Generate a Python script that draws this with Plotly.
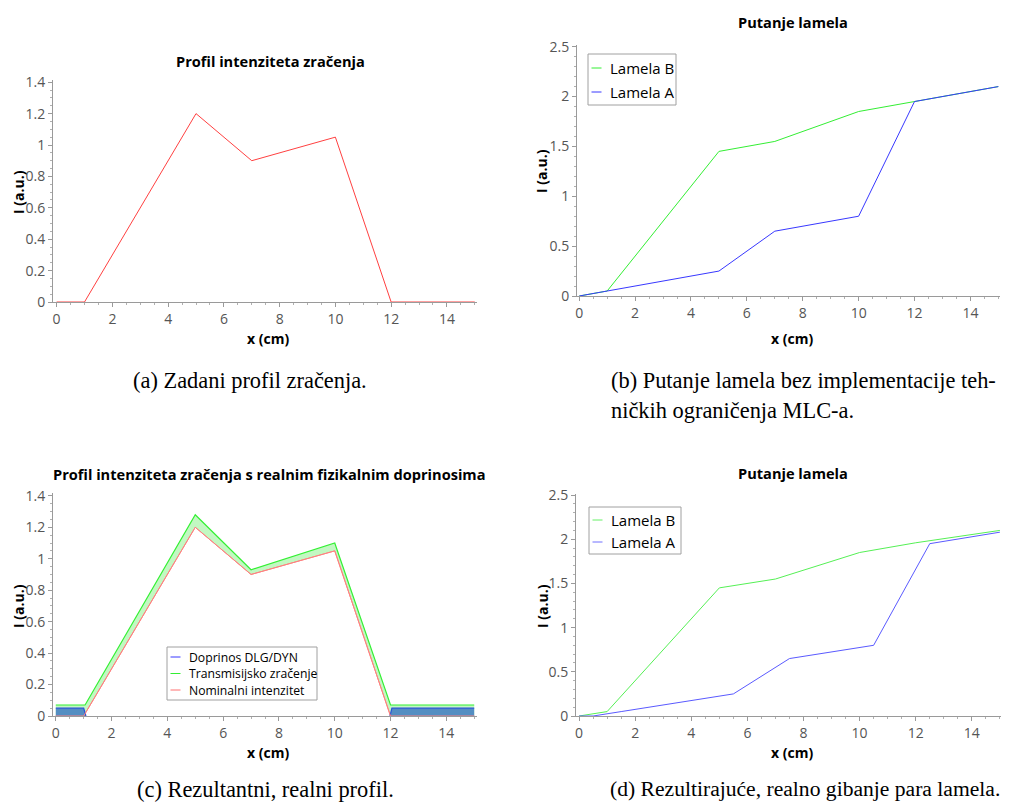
import plotly.graph_objects as go

W, H = 1011, 802
OFF = 8  # the page body has an 8px margin; positions below are page pixels

# ---------------- data ----------------
x_prof = [0, 1, 5, 7, 10, 12, 15]
nominal = [0, 0, 1.2, 0.9, 1.05, 0, 0]

x_leaf = [0, 1, 5, 7, 10, 12, 15]
lamela_b = [0, 0.05, 1.45, 1.55, 1.85, 1.95, 2.1]
lamela_a = [0, 0.05, 0.25, 0.65, 0.8, 1.95, 2.1]

x_trans = [0, 1, 1.05, 5, 7, 10, 12, 15]
trans_total = [0.07, 0.07, 0.07, 1.28, 0.93, 1.10, 0.07, 0.07]
x_dlg_left = [0, 1, 1.08]
dlg_left = [0.05, 0.05, 0]
x_dlg_right = [11.98, 12.05, 15]
dlg_right = [0, 0.05, 0.05]

x_real_b = [0, 1, 5, 7, 10, 12, 15]
real_b = [0, 0.05, 1.45, 1.55, 1.85, 1.96, 2.1]
x_real_a = [0, 0.5, 1.5, 5.5, 7.5, 10.5, 12.5, 15]
real_a = [0, 0, 0.05, 0.25, 0.65, 0.8, 1.95, 2.08]

x_ticks = [0, 2, 4, 6, 8, 10, 12, 14]

titles = ["Profil intenziteta zračenja", "Putanje lamela",
          "Profil intenziteta zračenja s realnim fizikalnim doprinosima", "Putanje lamela"]

# ---------------- helpers ----------------
def fx(px):
    return (px - OFF) / W

def fy(py):
    return 1 - (py - OFF) / H

RED = "#ff4040"
GREEN = "#33ee33"
BLUE = "#3838ff"
SANS = "Open Sans"
SERIF = "Liberation Serif"

fig = go.Figure()

# (a)
fig.add_trace(go.Scatter(x=x_prof, y=nominal, mode="lines", line=dict(color=RED, width=1),
                         xaxis="x", yaxis="y", showlegend=False))
# (b)
fig.add_trace(go.Scatter(x=x_leaf, y=lamela_b, mode="lines", line=dict(color=GREEN, width=1),
                         xaxis="x2", yaxis="y2", showlegend=False))
fig.add_trace(go.Scatter(x=x_leaf, y=lamela_a, mode="lines", line=dict(color=BLUE, width=1),
                         xaxis="x2", yaxis="y2", showlegend=False))
# (c)
fig.add_trace(go.Scatter(x=x_prof, y=nominal, mode="lines", line=dict(color="#ff8080", width=1),
                         xaxis="x3", yaxis="y3", showlegend=False))
fig.add_trace(go.Scatter(x=x_trans, y=trans_total, mode="lines", line=dict(color="#33f033", width=1.2),
                         fill="tonexty", fillcolor="rgba(120,240,120,0.45)",
                         xaxis="x3", yaxis="y3", showlegend=False))
for xs, ys in [(x_dlg_left, dlg_left), (x_dlg_right, dlg_right)]:
    fig.add_trace(go.Scatter(x=xs, y=ys, mode="lines", line=dict(color="#2850d8", width=1.2),
                             fill="tozeroy", fillcolor="rgb(84,142,194)",
                             xaxis="x3", yaxis="y3", showlegend=False))
fig.add_trace(go.Scatter(x=x_prof, y=nominal, mode="lines", line=dict(color="#ff8080", width=1),
                         xaxis="x3", yaxis="y3", showlegend=False))
# (d)
fig.add_trace(go.Scatter(x=x_real_b, y=real_b, mode="lines", line=dict(color="#55f055", width=1),
                         xaxis="x4", yaxis="y4", showlegend=False))
fig.add_trace(go.Scatter(x=x_real_a, y=real_a, mode="lines", line=dict(color="#5a5aff", width=1),
                         xaxis="x4", yaxis="y4", showlegend=False))


def xax(left, right, rng, anchor):
    return dict(domain=[fx(left), fx(right)], range=rng, anchor=anchor, automargin=False,
                tickvals=x_ticks, showgrid=False, zeroline=False, showline=True,
                linecolor="#9a9a9a", linewidth=1, ticks="outside", ticklen=4, tickcolor="#9a9a9a",
                tickfont=dict(family=SANS, size=14, color="#555555"),
                minor=dict(ticks="outside", ticklen=2, tickcolor="#b0b0b0", dtick=0.5, tick0=0))


def yax(bottom, top, rng, dtick, mdtick, anchor):
    return dict(domain=[fy(bottom), fy(top)], range=rng, anchor=anchor, automargin=False,
                dtick=dtick, tick0=0, showgrid=False, zeroline=False, showline=True,
                linecolor="#9a9a9a", linewidth=1, ticks="outside", ticklen=4, tickcolor="#9a9a9a",
                tickfont=dict(family=SANS, size=14, color="#555555"),
                minor=dict(ticks="outside", ticklen=2, tickcolor="#b0b0b0", dtick=mdtick, tick0=0))


layout = dict(
    width=W, height=H, margin=dict(l=0, r=0, t=0, b=0, pad=0, autoexpand=False),
    paper_bgcolor="white", plot_bgcolor="white", showlegend=False,
    xaxis=xax(53, 477, [-0.13, 15.08], "y"),
    yaxis=yax(302, 80, [0, 1.414], 0.2, 0.05, "x"),
    xaxis2=xax(577, 1000, [-0.08, 15.06], "y2"),
    yaxis2=yax(296, 45, [0, 2.517], 0.5, 0.1, "x2"),
    xaxis3=xax(53, 477, [-0.1, 15.1], "y3"),
    yaxis3=yax(716, 493, [0, 1.418], 0.2, 0.05, "x3"),
    xaxis4=xax(576, 1001, [-0.11, 15.04], "y4"),
    yaxis4=yax(716, 494, [0, 2.512], 0.5, 0.1, "x4"),
)
fig.update_layout(**layout)

ann = []
shapes = []


def text(px, py, t, size, bold=False, family=SANS, color="black", xanchor="center", angle=0):
    ann.append(dict(x=fx(px), y=fy(py), xref="paper", yref="paper", showarrow=False,
                    text=("<b>%s</b>" % t) if bold else t, xanchor=xanchor, yanchor="middle",
                    textangle=angle, font=dict(family=family, size=size, color=color)))


# subplot titles
text(270, 61, titles[0], 14.6, bold=True)
text(793, 22, titles[1], 14.6, bold=True)
text(269, 474, titles[2], 14.6, bold=True)
text(793, 473, titles[3], 14.6, bold=True)

# axis titles
for cx, cy in [(268, 338), (792, 338), (268, 752), (792, 752)]:
    text(cx, cy, "x (cm)", 14, bold=True)
for cx, cy in [(18, 192), (542, 171), (18, 606), (542, 606)]:
    text(cx, cy, "I (a.u.)", 14, bold=True, angle=-90)


def legend(box, entries, size):
    x0, y0, x1, y1 = box
    shapes.append(dict(type="rect", xref="paper", yref="paper", x0=fx(x0), x1=fx(x1), y0=fy(y1), y1=fy(y0),
                       line=dict(color="#a0a0a0", width=1), fillcolor="white", layer="above"))
    for (ly, col, lab) in entries:
        shapes.append(dict(type="line", xref="paper", yref="paper", x0=fx(x0 + 3.5), x1=fx(x0 + 13.5),
                           y0=fy(ly), y1=fy(ly), line=dict(color=col, width=1), layer="above"))
        text(x0 + 20, ly, lab, size, xanchor="left")


legend((588, 54, 676, 105), [(68, GREEN, "Lamela B"), (92, BLUE, "Lamela A")], 15)
legend((167, 647, 317, 700), [(657, "#3838ff", "Doprinos DLG/DYN"), (673.5, "#33ee33", "Transmisijsko zračenje"),
                              (690, "#ff7070", "Nominalni intenzitet")], 12.2)
legend((589, 507, 681, 554), [(520, "#66f066", "Lamela B"), (542, "#7070ff", "Lamela A")], 15)

# captions
CAP = 22.4
text(250, 381, "(a) Zadani profil zračenja.", CAP, family=SERIF)
text(609, 381, "(b) Putanje lamela bez implementacije teh-", CAP, family=SERIF, xanchor="left")
text(609, 411, "ničkih ograničenja MLC-a.", CAP, family=SERIF, xanchor="left")
text(265, 789, "(c) Rezultantni, realni profil.", CAP, family=SERIF)
text(608, 789, "(d) Rezultirajuće, realno gibanje para lamela.", 21.6, family=SERIF, xanchor="left")

fig.update_layout(annotations=ann, shapes=shapes)
fig.write_html("out.html")
